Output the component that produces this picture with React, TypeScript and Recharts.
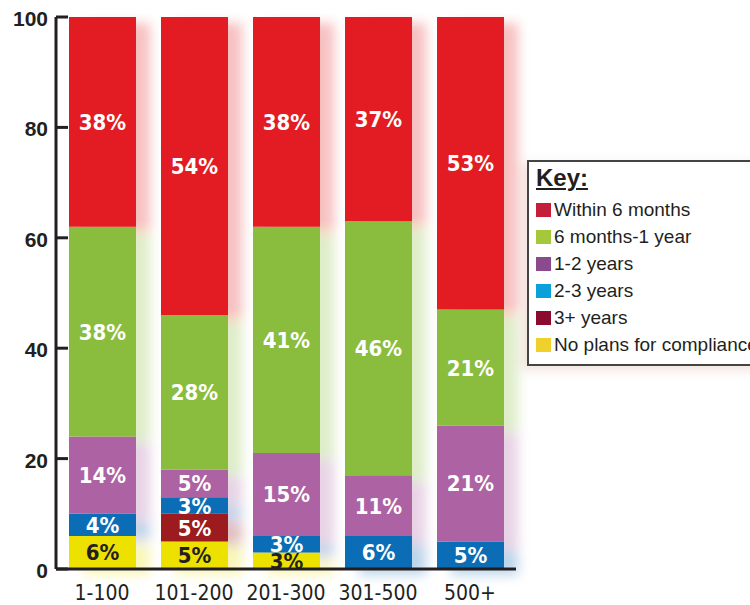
import { BarChart, Bar, XAxis, YAxis, LabelList, Legend } from 'recharts';

const categories = ['1-100', '101-200', '201-300', '301-500', '500+'];
const within6Months = [38, 54, 38, 37, 53];
const sixMonthsTo1Year = [38, 28, 41, 46, 21];
const oneToTwoYears = [14, 5, 15, 11, 21];
const twoToThreeYears = [4, 3, 3, 6, 5];
const threePlusYears = [0, 5, 0, 0, 0];
const noPlans = [6, 5, 3, 0, 0];
const yTicks = [0, 20, 40, 60, 80, 100];

// stacked bottom -> top
const series = [
  { key: 'noPlans', name: 'No plans for compliance', values: noPlans, color: '#EDE100', legendColor: '#F0D02A', labelColor: '#231F20' },
  { key: 'threePlus', name: '3+ years', values: threePlusYears, color: '#9B1B1F', legendColor: '#8B0A30', labelColor: '#ffffff' },
  { key: 'twoToThree', name: '2-3 years', values: twoToThreeYears, color: '#0A6DB5', legendColor: '#0AA0DC', labelColor: '#ffffff' },
  { key: 'oneToTwo', name: '1-2 years', values: oneToTwoYears, color: '#AC62A3', legendColor: '#8B4A8E', labelColor: '#ffffff' },
  { key: 'sixToOne', name: '6 months-1 year', values: sixMonthsTo1Year, color: '#8ABD3E', legendColor: '#A5C83A', labelColor: '#ffffff' },
  { key: 'within6', name: 'Within 6 months', values: within6Months, color: '#E31B23', legendColor: '#C41E3A', labelColor: '#ffffff' },
];

const data = categories.map((name, i) => {
  const row: Record<string, string | number> = { name };
  let total = 0;
  series.forEach((s) => {
    row[s.key] = s.values[i];
    total += s.values[i];
  });
  row.total = total;
  return row;
});

const condensed = "'DejaVu Sans Condensed', 'Liberation Sans Narrow', sans-serif";
const plain = "'Liberation Sans', Arial, sans-serif";
const ink = '#231F20';

const YTick = ({ x, y, payload }: any) => (
  <g>
    <line x1={x} x2={x + 12} y1={y} y2={y} stroke={ink} strokeWidth={3} />
    <text x={x - 8} y={y + 9} textAnchor="end" fontFamily={plain} fontWeight="bold" fontSize={21} fill={ink}>
      {payload.value}
    </text>
  </g>
);

// soft blurred copy of each bar, like the drop shadow in the original
const ShadowShape = (props: any) => {
  const { x, y, width, height, payload } = props;
  const id = `blur-${String(payload.name).replace(/[^a-z0-9]/gi, '')}`;
  let acc = 0;
  const rects = series.map((s) => {
    const v = payload[s.key] as number;
    const top = y + height * (1 - (acc + v) / payload.total);
    const h = (height * v) / payload.total;
    acc += v;
    return <rect key={s.key} x={x + 14} y={top + 6} width={width} height={h} fill={s.color} />;
  });
  return (
    <g>
      <defs>
        <filter id={id} x="-50%" y="-20%" width="200%" height="140%">
          <feGaussianBlur stdDeviation="6" />
        </filter>
      </defs>
      <g filter={`url(#${id})`} opacity={0.28}>
        {rects}
      </g>
    </g>
  );
};

const renderLabel = (color: string) => (props: any) => {
  const { x, y, width, height, value } = props;
  if (!value) return null;
  return (
    <text
      x={x + width / 2}
      y={y + height / 2 + 8}
      textAnchor="middle"
      fontFamily={condensed}
      fontWeight="bold"
      fontSize={22}
      fill={color}
    >
      {value}%
    </text>
  );
};

const KeyBox = () => (
  <div
    style={{
      border: '2px solid #444',
      background: '#fff',
      boxShadow: '-4px 4px 10px rgba(200,140,120,0.25)',
      height: 206,
      width: 240,
      boxSizing: 'border-box',
      padding: '2px 0 0 7px',
      fontFamily: plain,
      color: ink,
    }}
  >
    <div style={{ fontSize: 24, fontWeight: 'bold', textDecoration: 'underline', lineHeight: '28px', marginBottom: 4 }}>Key:</div>
    {[...series].reverse().map((s) => (
      <div key={s.key} style={{ display: 'flex', alignItems: 'center', height: 27, fontSize: 19, whiteSpace: 'nowrap' }}>
        <span style={{ display: 'inline-block', width: 15, height: 14, background: s.legendColor, marginRight: 3 }} />
        {s.name}
      </div>
    ))}
  </div>
);

export default function App() {
  return (
    <div style={{ position: 'absolute', left: 0, top: 0, width: 750, height: 605, overflow: 'hidden', background: '#fff' }}>
      <BarChart width={750} height={605} data={data} margin={{ top: 17, right: 234, bottom: 0, left: 0 }}>
        <XAxis xAxisId="shadow" dataKey="name" hide />
        <XAxis
          dataKey="name"
          height={36}
          axisLine={{ stroke: ink, strokeWidth: 3 }}
          tickLine={false}
          tickSize={0}
          tickMargin={16}
          tick={{ fontFamily: condensed, fontSize: 21, fill: ink }}
        />
        <YAxis
          width={56}
          domain={[0, 100]}
          ticks={yTicks}
          interval={0}
          axisLine={{ stroke: ink, strokeWidth: 3 }}
          tickLine={false}
          tickSize={0}
          tickMargin={0}
          tick={<YTick />}
        />
        <Bar xAxisId="shadow" dataKey="total" barSize={67} shape={<ShadowShape />} isAnimationActive={false} />
        {series.map((s) => (
          <Bar key={s.key} dataKey={s.key} name={s.name} stackId="a" fill={s.color} barSize={67} isAnimationActive={false}>
            <LabelList dataKey={s.key} content={renderLabel(s.labelColor)} />
          </Bar>
        ))}
        <Legend
          layout="vertical"
          align="center"
          verticalAlign="middle"
          content={<KeyBox />}
          wrapperStyle={{ left: 527, top: 160, width: 240, height: 206 }}
        />
      </BarChart>
    </div>
  );
}
